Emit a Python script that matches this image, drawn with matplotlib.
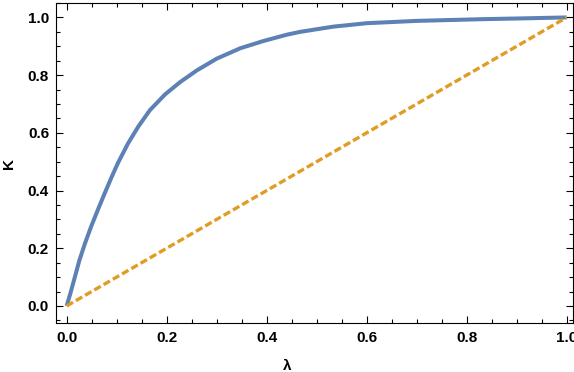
import numpy as np
import matplotlib
matplotlib.use('Agg')
import matplotlib.pyplot as plt
from matplotlib.ticker import MultipleLocator, FormatStrFormatter

# K(lambda)
lam = [0.0, 0.008, 0.0167, 0.0253, 0.0367, 0.0487, 0.0633, 0.0767,
       0.09, 0.103, 0.123, 0.143, 0.1667, 0.1967, 0.227, 0.26,
       0.30, 0.347, 0.393, 0.44, 0.467, 0.5, 0.533, 0.6, 0.7, 0.833, 0.92, 1.0]
K = [0.0, 0.047, 0.102, 0.157, 0.217, 0.274, 0.337, 0.393,
     0.447, 0.497, 0.564, 0.621, 0.679, 0.733, 0.776, 0.816,
     0.857, 0.893, 0.918, 0.940, 0.950, 0.959, 0.968, 0.980, 0.988, 0.994, 0.997, 1.0]

# diagonal reference line
lam_lin = [0.0, 1.0]
K_lin = [0.0, 1.0]

plt.rcParams['font.family'] = ['Liberation Sans', 'DejaVu Sans']
plt.rcParams['font.weight'] = 'bold'

fig = plt.figure(figsize=(5.74, 3.72), dpi=100)
ax = fig.add_axes([56 / 574, 1 - 322.7 / 372, (573 - 56) / 574, (322.7 - 3) / 372])

ax.plot(lam, K, color='#5E81B5', lw=2.9, solid_capstyle='butt', solid_joinstyle='round')
ax.plot(lam_lin, K_lin, color='#E19C24', lw=2.4, dashes=(2.2, 1.0))

ax.set_xlim(-0.0213, 1.0127)
ax.set_ylim(-0.058, 1.050)

ax.xaxis.set_major_locator(MultipleLocator(0.2))
ax.xaxis.set_minor_locator(MultipleLocator(0.05))
ax.yaxis.set_major_locator(MultipleLocator(0.2))
ax.yaxis.set_minor_locator(MultipleLocator(0.05))
ax.xaxis.set_major_formatter(FormatStrFormatter('%.1f'))
ax.yaxis.set_major_formatter(FormatStrFormatter('%.1f'))

ax.tick_params(which='both', direction='in', top=True, right=True, width=0.8,
               labelsize=11, color='black')
ax.tick_params(which='major', length=5)
ax.tick_params(which='minor', length=3)
ax.tick_params(axis='x', pad=6)
ax.tick_params(axis='y', pad=5)

for s in ax.spines.values():
    s.set_linewidth(0.8)

fig.text(0.5, 6 / 372, 'λ', ha='center', va='center', fontsize=11, fontweight='bold')
fig.text(9.5 / 574, 1 - 163 / 372, 'K', ha='center', va='center', rotation=90,
         fontsize=11, fontweight='bold')

fig.savefig('out.png', dpi=100)
